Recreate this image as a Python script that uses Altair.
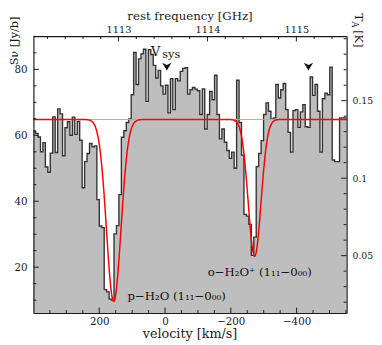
import altair as alt
import numpy as np
import pandas as pd

# ---------------- values ----------------
# spectrum: uniform channels, high-velocity edge of first channel and width (km/s)
first_edge_kms = 401.0
channel_kms = 7.453
flux_jy = [60.8, 61.3, 60.6, 59.5, 55.0, 57.8, 50.4, 48.8, 54.6, 65.6,
           54.8, 68.0, 66.5, 53.8, 62.3, 64.1, 60.0, 65.5, 60.3, 64.2,
           58.5, 44.1, 52.0, 54.5, 57.5, 56.5, 56.8, 40.5, 32.5, 32.0,
           13.2, 12.5, 10.3, 10.0, 30.1, 32.6, 42.0, 59.4, 61.4, 63.9,
           65.0, 72.3, 85.1, 75.4, 83.2, 84.7, 86.1, 70.3, 86.0, 84.5,
           81.2, 77.4, 79.7, 75.0, 72.5, 75.2, 66.8, 77.2, 67.8, 77.2,
           76.5, 79.4, 80.3, 80.5, 72.5, 73.8, 74.5, 74.0, 73.5, 66.3,
           74.1, 61.9, 66.3, 73.3, 70.8, 78.2, 66.3, 58.9, 61.9, 57.9,
           55.4, 53.0, 54.9, 50.0, 76.7, 63.9, 54.0, 36.0, 35.5, 33.0,
           23.6, 29.1, 50.5, 54.5, 58.4, 66.3, 69.8, 67.3, 64.9, 65.3,
           75.4, 71.3, 73.8, 75.7, 67.8, 60.9, 54.9, 67.5, 67.8, 62.4,
           67.1, 69.3, 62.6, 62.4, 77.7, 72.1, 75.4, 67.3, 54.9, 71.1,
           72.8, 72.3, 80.7, 52.5, 52.0, 52.0, 65.3, 65.3]

# Gaussian absorption fit (continuum, centres, depths, widths) in km/s and Jy
continuum_jy = 64.8
fit_centres = [156.0, -272.4]
fit_depths = [55.2, 41.5]
fit_sigmas = [22.0, 19.5]

# axes
x_domain = [400, -552]            # km/s
y_domain = [6.1, 90.1]            # Jy/beam
f_domain = [1112.043, 1115.565]   # GHz (top axis)
jy_per_K = 470.0
k_domain = [y_domain[0] / jy_per_K, y_domain[1] / jy_per_K]

v_major = [200, 0, -200, -400]
v_minor = [350, 300, 250, 150, 100, 50, -50, -100, -150, -250, -300, -350,
           -450, -500, -550]
jy_major = [20, 40, 60, 80]
jy_minor = [10, 15, 25, 30, 35, 45, 50, 55, 65, 70, 75, 85, 90]
f_major = [1113, 1114, 1115]
f_minor = [1112.2, 1112.4, 1112.6, 1112.8, 1113.2, 1113.4, 1113.6, 1113.8,
           1114.2, 1114.4, 1114.6, 1114.8, 1115.2, 1115.4]
k_major = [0.05, 0.1, 0.15]
k_minor = [0.02, 0.03, 0.04, 0.06, 0.07, 0.08, 0.09, 0.11, 0.12, 0.13, 0.14,
           0.16, 0.17, 0.18, 0.19]

# annotations (velocity, flux)
vsys_arrows_v = [-5.5, -436.0]
arrow_jy = 81.05
label_p = "p\u2212H\u2082O (1\u2081\u2081\u22120\u2080\u2080)"
label_o = "o\u2212H\u2082O\u207a (1\u2081\u2081\u22120\u2080\u2080)"
title_x = "velocity [km/s]"
title_y = "S\u03bd [Jy/b]"
title_top = "rest frequency [GHz]"

# ---------------- build tables ----------------
n = len(flux_jy)
edges = [first_edge_kms - k * channel_kms for k in range(n + 1)]
spec = pd.DataFrame({"v": edges, "jy": flux_jy + [flux_jy[-1]]})

v_model = np.arange(-560.0, 410.0, 1.0)
model = np.full_like(v_model, continuum_jy)
for c, d, s in zip(fit_centres, fit_depths, fit_sigmas):
    model = model - d * np.exp(-0.5 * ((v_model - c) / s) ** 2)
fit = pd.DataFrame({"v": v_model, "jy": model})

W, H = 320, 283
INK = "#1a1a1a"
FONT = "DejaVu Serif"

xs = alt.Scale(domain=x_domain, zero=False, nice=False)
ys = alt.Scale(domain=y_domain, zero=False, nice=False)
fs = alt.Scale(domain=f_domain, zero=False, nice=False)
ks = alt.Scale(domain=k_domain, zero=False, nice=False)

common = dict(grid=False, ticks=False, tickSize=0, domain=True, domainColor=INK,
              domainWidth=1.2, labelColor=INK, labelFont=FONT, title="",
              labelOverlap=False, labelFlush=False, zindex=1)

x_axis = alt.Axis(orient="bottom", values=v_major, labelFontSize=10.5,
                  labelPadding=11.8, labelBaseline="alphabetic", **common)
y_axis = alt.Axis(orient="left", values=jy_major, labelFontSize=10.5,
                  labelPadding=6.5, **common)
f_axis = alt.Axis(orient="top", values=f_major, format="d", labelFontSize=10,
                  labelPadding=3.8, labelBaseline="alphabetic", **common)
k_axis = alt.Axis(orient="right", values=k_major, format="~g", labelFontSize=9.5,
                  labelPadding=5.5, **common)


def X(f="v"):
    return alt.X(f, type="quantitative", scale=xs, axis=x_axis)


def Y(f="jy"):
    return alt.Y(f, type="quantitative", scale=ys, axis=y_axis)


fill = alt.Chart(spec).mark_area(interpolate="step-before", color="#bebebe",
                                 clip=True).encode(x=X(), y=Y(), y2=alt.Y2Datum(0))
outline = alt.Chart(spec).mark_line(interpolate="step-before", color="#333333",
                                    strokeWidth=1.4, clip=True).encode(x=X(), y=Y())
cont = alt.Chart(pd.DataFrame({"jy": [continuum_jy]})).mark_rule(
    color="#ff8c8c", strokeWidth=1).encode(y=Y())
fitline = alt.Chart(fit).mark_line(color="#ff0000", strokeWidth=1.5,
                                   clip=True).encode(x=X(), y=Y())

bt_major = alt.Chart(pd.DataFrame({"v": v_major})).mark_rule(
    color=INK, strokeWidth=1).encode(x=X(), y=alt.value(H), y2=alt.value(H - 5.5))
bt_minor = alt.Chart(pd.DataFrame({"v": v_minor})).mark_rule(
    color=INK, strokeWidth=1).encode(x=X(), y=alt.value(H), y2=alt.value(H - 3))
lt_major = alt.Chart(pd.DataFrame({"jy": jy_major})).mark_rule(
    color=INK, strokeWidth=1).encode(y=Y(), x=alt.value(0), x2=alt.value(5.5))
lt_minor = alt.Chart(pd.DataFrame({"jy": jy_minor})).mark_rule(
    color=INK, strokeWidth=1).encode(y=Y(), x=alt.value(0), x2=alt.value(3))

arrows = alt.Chart(pd.DataFrame({"v": vsys_arrows_v,
                                 "jy": [arrow_jy] * len(vsys_arrows_v)})).mark_point(
    shape="M0,1L-1,-0.7L0,-0.2L1,-0.7Z", filled=True, color="#111111",
    opacity=1, size=90, strokeWidth=0).encode(x=X(), y=Y())

t_v = alt.Chart(pd.DataFrame({"v": [43.0], "jy": [84.07]})).mark_text(
    text="V", fontSize=13, align="left", baseline="alphabetic", color="#111111"
).encode(x=X(), y=Y())
t_sys = alt.Chart(pd.DataFrame({"v": [8.2], "jy": [83.57]})).mark_text(
    text="sys", fontSize=11.5, align="left", baseline="alphabetic", color="#111111"
).encode(x=X(), y=Y())
t_p = alt.Chart(pd.DataFrame({"v": [114.4], "jy": [11.14]})).mark_text(
    text=label_p, fontSize=12, align="left", baseline="middle", color="#111111"
).encode(x=X(), y=Y())
t_o = alt.Chart(pd.DataFrame({"v": [-129.6], "jy": [18.57]})).mark_text(
    text=label_o, fontSize=12, align="left", baseline="middle", color="#111111"
).encode(x=X(), y=Y())

one = pd.DataFrame({"a": [0]})
ttl_x = alt.Chart(one).mark_text(text=title_x, fontSize=13, align="center",
                                 baseline="alphabetic", color=INK).encode(
    x=alt.value(W / 2), y=alt.value(H + 26))
ttl_y = alt.Chart(one).mark_text(text=title_y, fontSize=11.5, angle=270,
                                 align="center", baseline="alphabetic",
                                 color=INK).encode(
    x=alt.value(-15.3), y=alt.value(5))
ttl_top = alt.Chart(one).mark_text(text=title_top, fontSize=12, align="center",
                                   baseline="alphabetic", color=INK).encode(
    x=alt.value(W / 2), y=alt.value(-16.2))
rt_T = alt.Chart(one).mark_text(text="T", fontSize=12, angle=90, align="left",
                                baseline="alphabetic", color=INK).encode(
    x=alt.value(W + 9), y=alt.value(-23))
rt_A = alt.Chart(one).mark_text(text="A", fontSize=8.5, angle=90, align="left",
                                baseline="alphabetic", color=INK).encode(
    x=alt.value(W + 6), y=alt.value(-15))
rt_K = alt.Chart(one).mark_text(text="[K]", fontSize=11.5, angle=90, align="left",
                                baseline="alphabetic", color=INK).encode(
    x=alt.value(W + 9), y=alt.value(-6))

main = alt.layer(fill, outline, cont, fitline, bt_major, bt_minor, lt_major,
                 lt_minor, arrows, t_v, t_sys, t_p, t_o, ttl_x, ttl_y, ttl_top,
                 rt_T, rt_A, rt_K)

top_major = alt.Chart(pd.DataFrame({"f": f_major})).mark_rule(
    color=INK, strokeWidth=1).encode(
    x=alt.X("f", type="quantitative", scale=fs, axis=f_axis),
    y=alt.value(0), y2=alt.value(5.5))
top_minor = alt.Chart(pd.DataFrame({"f": f_minor})).mark_rule(
    color=INK, strokeWidth=1).encode(
    x=alt.X("f", type="quantitative", scale=fs, axis=f_axis),
    y=alt.value(0), y2=alt.value(3))
top = alt.layer(top_major, top_minor)

r_major = alt.Chart(pd.DataFrame({"k": k_major})).mark_rule(
    color=INK, strokeWidth=1).encode(
    y=alt.Y("k", type="quantitative", scale=ks, axis=k_axis),
    x=alt.value(W), x2=alt.value(W - 5.5))
r_minor = alt.Chart(pd.DataFrame({"k": k_minor})).mark_rule(
    color=INK, strokeWidth=1).encode(
    y=alt.Y("k", type="quantitative", scale=ks, axis=k_axis),
    x=alt.value(W), x2=alt.value(W - 3))
right = alt.layer(r_major, r_minor)

chart = alt.layer(main, top, right).resolve_scale(
    x="independent", y="independent"
).properties(
    width=W, height=H,
    autosize=alt.AutoSizeParams(type="none"),
    padding={"left": 26, "top": 25, "right": 28, "bottom": 29},
).configure(font=FONT).configure_view(stroke=None)

chart.save("out.html", embed_options={"renderer": "svg", "actions": False})
